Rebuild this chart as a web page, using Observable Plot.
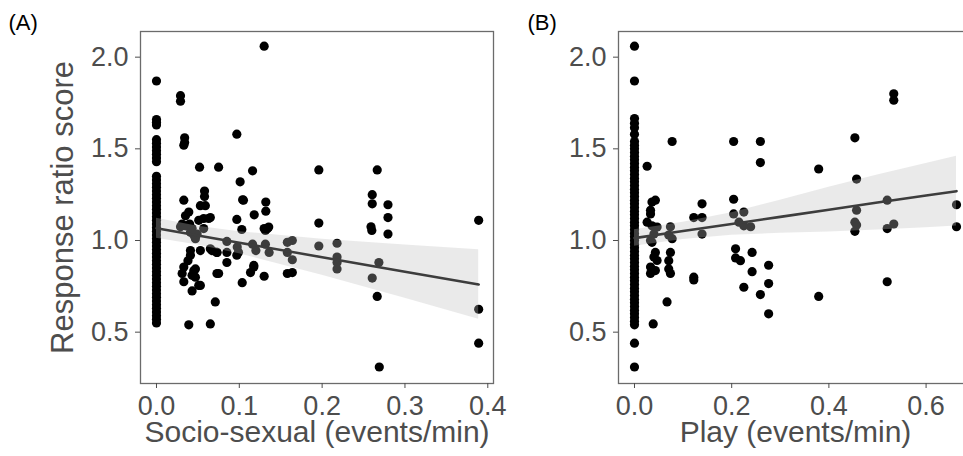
<!DOCTYPE html>
<html>
<head>
<meta charset="utf-8">
<script src="https://cdn.jsdelivr.net/npm/d3@7"></script>
<script src="https://cdn.jsdelivr.net/npm/@observablehq/plot@0.6"></script>
<style>
  html, body { margin: 0; padding: 0; background: #fff; overflow: hidden; }
  #wrap { position: relative; width: 963px; height: 456px; overflow: hidden; background: #fff; }
  .panel { position: absolute; top: 0; }
  .panel svg { max-width: none !important; display: block; }
</style>
</head>
<body>
<div id="wrap">
  <div class="panel" id="panelA" style="left:0;width:510px"></div>
  <div class="panel" id="panelB" style="left:510px;width:470px"></div>
</div>
<script>
// Shared response axis
const yTicks = [0.5, 1.0, 1.5, 2.0];
const yTitle = "Response ratio score";

// (A) socio-sexual rate vs response ratio
const socioTicks = [0.0, 0.1, 0.2, 0.3, 0.4];
const socioTitle = "Socio-sexual (events/min)";
// individuals with no socio-sexual events (x = 0)
const socioZeroY = [
  1.87, 1.66, 1.645, 1.63, 1.55, 1.53, 1.51, 1.49, 1.47, 1.45, 1.43,
  1.35, 1.33, 1.31, 1.29, 1.27, 1.25, 1.23, 1.21, 1.19, 1.17, 1.15, 1.13, 1.11, 1.09, 1.07, 1.05,
  1.03, 1.01, 0.99, 0.97, 0.95, 0.93, 0.91, 0.89, 0.87, 0.85, 0.83, 0.81, 0.79, 0.77, 0.75, 0.73,
  0.71, 0.69, 0.67, 0.65, 0.63, 0.61, 0.59, 0.57, 0.55
];
const socioX = [
  0.029, 0.029, 0.034, 0.034, 0.033, 0.052, 0.075, 0.097,
  0.116, 0.130, 0.101, 0.033, 0.058, 0.058, 0.053, 0.059,
  0.065, 0.039, 0.035, 0.031, 0.051, 0.057, 0.063, 0.043,
  0.049, 0.047, 0.040, 0.105, 0.097, 0.103, 0.118, 0.132,
  0.132, 0.130, 0.134, 0.085, 0.085, 0.0975, 0.097, 0.073,
  0.065, 0.053, 0.041, 0.041, 0.038, 0.033, 0.031, 0.033,
  0.047, 0.043, 0.053, 0.043, 0.071, 0.039, 0.065, 0.073,
  0.075, 0.1035, 0.1175, 0.1135, 0.130, 0.120, 0.116, 0.1315,
  0.136, 0.158, 0.164, 0.158, 0.164, 0.158, 0.164, 0.196,
  0.196, 0.196, 0.218, 0.218, 0.218, 0.218, 0.2665, 0.2605,
  0.2605, 0.259, 0.260, 0.2685, 0.2605, 0.2665, 0.269, 0.2795,
  0.2795, 0.2795, 0.389, 0.389, 0.389, 0.029, 0.035, 0.045,
  0.041, 0.057, 0.067, 0.073, 0.045, 0.047, 0.051, 0.085,
  0.104, 0.1355, 0.1315, 0.099, 0.1175
];
const socioY = [
  1.79, 1.76, 1.56, 1.535, 1.52, 1.40, 1.40, 1.58,
  1.38, 2.06, 1.32, 1.22, 1.27, 1.24, 1.19, 1.19,
  1.125, 1.155, 1.135, 1.09, 1.11, 1.12, 1.12, 1.065,
  1.035, 1.01, 1.09, 1.22, 1.115, 1.06, 1.14, 1.21,
  1.16, 1.065, 1.065, 0.995, 0.935, 0.965, 0.92, 0.935,
  0.955, 0.945, 0.945, 0.92, 0.89, 0.855, 0.82, 0.775,
  0.845, 0.81, 0.755, 0.725, 0.665, 0.54, 0.545, 0.82,
  0.82, 0.77, 0.855, 0.825, 0.805, 0.945, 0.98, 0.98,
  0.935, 0.99, 1.0, 0.935, 0.895, 0.82, 0.825, 1.385,
  1.095, 0.97, 0.985, 0.91, 0.88, 0.845, 1.385, 1.25,
  1.20, 1.075, 1.055, 0.88, 0.795, 0.695, 0.31, 1.195,
  1.125, 1.035, 1.11, 0.625, 0.44, 1.075, 1.08, 1.03,
  1.045, 1.065, 0.945, 0.935, 0.835, 0.80, 0.755, 0.88,
  1.222, 1.073, 1.055, 0.936, 0.864
];
// fitted trend and its confidence band
const socioFitX = [0, 0.05, 0.1, 0.2, 0.3, 0.389];
const socioFitY = [1.067, 1.027, 0.988, 0.909, 0.830, 0.760];
const socioLo   = [1.012, 0.976, 0.928, 0.811, 0.685, 0.571];
const socioHi   = [1.122, 1.078, 1.048, 1.007, 0.975, 0.950];

// (B) play rate vs response ratio
const playTicks = [0.0, 0.2, 0.4, 0.6];
const playTitle = "Play (events/min)";
// individuals with no play events (x = 0)
const playZeroY = [
  2.06, 1.87, 1.665, 1.64, 1.615, 1.58,
  1.54, 1.52, 1.50, 1.48, 1.46, 1.44, 1.42, 1.40, 1.38, 1.36, 1.34, 1.32, 1.30, 1.28, 1.26, 1.24,
  1.22, 1.20, 1.18, 1.16, 1.14, 1.12, 1.10, 1.08, 1.06, 1.04, 1.02, 1.00, 0.98, 0.96, 0.94, 0.92,
  0.90, 0.88, 0.86, 0.84, 0.82, 0.80, 0.78, 0.76, 0.74, 0.72, 0.70, 0.68, 0.66, 0.64, 0.62, 0.60,
  0.58, 0.56, 0.54, 0.44, 0.31
];
const playX = [
  0.026, 0.0775, 0.043, 0.036, 0.033, 0.033, 0.026, 0.036,
  0.0465, 0.040, 0.033, 0.036, 0.074, 0.0705, 0.0775, 0.043,
  0.040, 0.033, 0.033, 0.0465, 0.043, 0.074, 0.0705, 0.074,
  0.0705, 0.067, 0.0385, 0.139, 0.122, 0.139, 0.139, 0.122,
  0.122, 0.204, 0.259, 0.259, 0.204, 0.204, 0.225, 0.215,
  0.225, 0.239, 0.208, 0.208, 0.218, 0.242, 0.242, 0.276,
  0.276, 0.225, 0.259, 0.276, 0.379, 0.379, 0.5335, 0.5335,
  0.4535, 0.457, 0.457, 0.4535, 0.457, 0.4535, 0.52, 0.52,
  0.5335, 0.52, 0.6626, 0.6626
];
const playY = [
  1.405, 1.54, 1.22, 1.21, 1.165, 1.145, 1.10, 1.08,
  1.073, 1.036, 1.0, 0.99, 1.075, 1.03, 1.01, 0.935,
  0.91, 0.855, 0.82, 0.891, 0.836, 0.935, 0.89, 0.82,
  0.845, 0.665, 0.545, 1.20, 1.125, 1.125, 1.035, 0.80,
  0.785, 1.54, 1.54, 1.425, 1.225, 1.145, 1.155, 1.10,
  1.08, 1.075, 0.955, 0.905, 0.89, 0.935, 0.83, 0.865,
  0.765, 0.745, 0.705, 0.60, 1.39, 0.695, 1.80, 1.765,
  1.56, 1.335, 1.165, 1.10, 1.085, 1.05, 1.22, 1.065,
  1.09, 0.775, 1.195, 1.075
];
const playFitX = [0, 0.1, 0.2, 0.3, 0.4, 0.5, 0.6, 0.6626];
const playFitY = [1.013, 1.052, 1.090, 1.129, 1.168, 1.207, 1.245, 1.269];
const playLo   = [0.968, 1.005, 1.028, 1.039, 1.046, 1.057, 1.070, 1.079];
const playHi   = [1.058, 1.099, 1.152, 1.219, 1.290, 1.357, 1.420, 1.459];

const FONT = "'Liberation Sans', Arial, Helvetica, sans-serif";
const INK = "#4d4d4d";

function panel({zeroY, xs, ys, fitX, fitY, lo, hi, xDomain, xTicks, xTitle, tag, tagX, width, marginLeft, marginRight, showYTitle}) {
  const pts = zeroY.map((y) => ({x: 0, y})).concat(xs.map((x, i) => ({x, y: ys[i]})));
  const fit = fitX.map((x, i) => ({x, y: fitY[i], lo: lo[i], hi: hi[i]}));
  const marks = [
    Plot.dot(pts, {x: "x", y: "y", r: 4.6, fill: "#000", stroke: "none"}),
    Plot.areaY(fit, {x: "x", y1: "lo", y2: "hi", fill: "#bdbdbd", fillOpacity: 0.32}),
    Plot.line(fit, {x: "x", y: "y", stroke: "#3d3d3d", strokeWidth: 2.6}),
    Plot.frame({stroke: "#6b6b6b", strokeWidth: 1.3}),
    Plot.axisX({ticks: xTicks, tickFormat: d3.format(".1f"), tickSize: 5, tickPadding: 7, label: null, color: INK}),
    Plot.axisY({ticks: yTicks, tickFormat: d3.format(".1f"), tickSize: 5, tickPadding: 7, label: null, color: INK}),
    Plot.text([xTitle], {frameAnchor: "bottom", dy: 58, lineAnchor: "bottom", textAnchor: "middle", fontSize: 30, fill: INK}),
    Plot.text([tag], {frameAnchor: "top-left", dx: tagX - marginLeft, dy: -2, lineAnchor: "bottom", textAnchor: "start", fontSize: 22, fill: "#000"})
  ];
  if (showYTitle) {
    marks.push(Plot.text([yTitle], {frameAnchor: "left", dx: -68, rotate: -90, lineAnchor: "bottom", textAnchor: "middle", fontSize: 31, fill: INK}));
  }
  return Plot.plot({
    width, height: 456,
    marginLeft, marginRight, marginTop: 31, marginBottom: 73,
    x: {domain: xDomain},
    y: {domain: [0.220, 2.140]},
    style: {fontFamily: FONT, fontSize: "27px", background: "#fff", overflow: "visible"},
    marks
  });
}

document.getElementById("panelA").append(panel({
  zeroY: socioZeroY, xs: socioX, ys: socioY, fitX: socioFitX, fitY: socioFitY, lo: socioLo, hi: socioHi,
  xDomain: [-0.0193, 0.4069], xTicks: socioTicks, xTitle: socioTitle, tag: "(A)", tagX: 8,
  width: 510, marginLeft: 140, marginRight: 17, showYTitle: true
}));

document.getElementById("panelB").append(panel({
  zeroY: playZeroY, xs: playX, ys: playY, fitX: playFitX, fitY: playFitY, lo: playLo, hi: playHi,
  xDomain: [-0.0329, 0.6955], xTicks: playTicks, xTitle: playTitle, tag: "(B)", tagX: 17,
  width: 470, marginLeft: 108, marginRight: 8, showYTitle: false
}));
</script>
</body>
</html>
